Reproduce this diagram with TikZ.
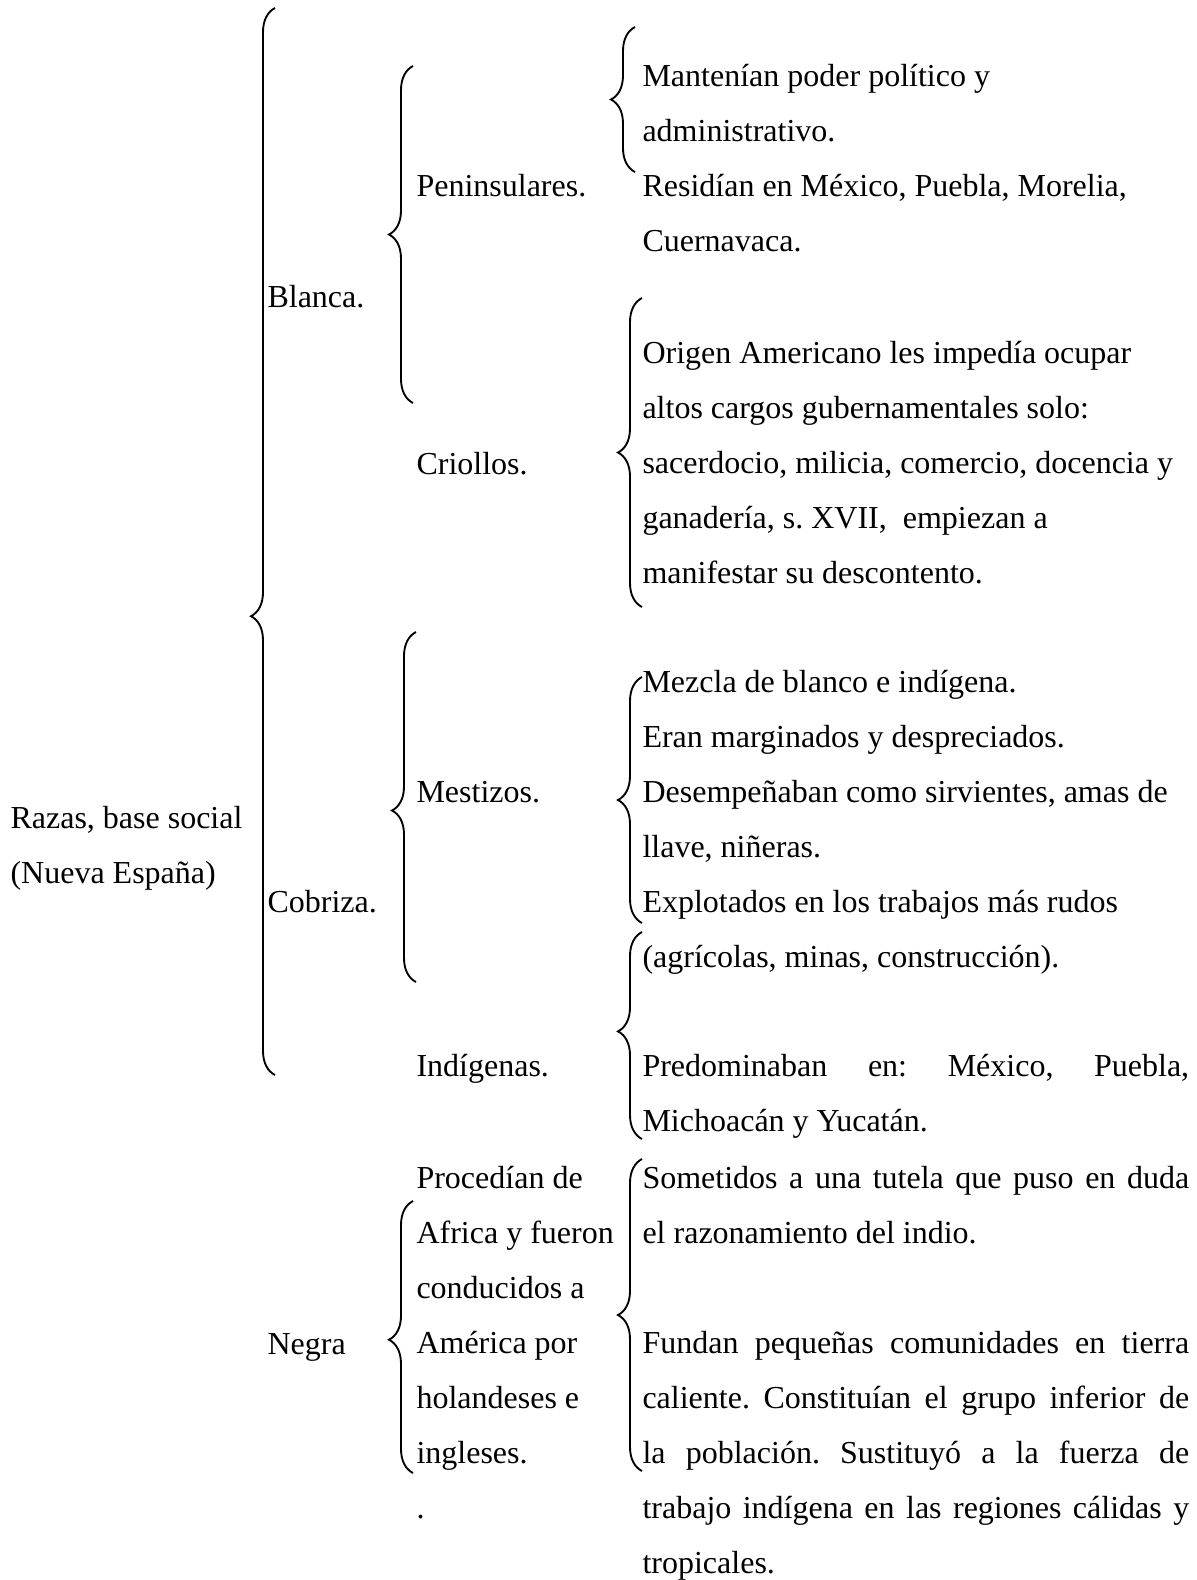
\documentclass[tikz,border=0pt]{standalone}
\usepackage{fontspec}
\setmainfont{Liberation Serif}
\frenchspacing
\usetikzlibrary{decorations.pathreplacing}
\tikzset{
	llave/.style={decorate,decoration={brace,amplitude=9pt,aspect=#1},line width=0.7pt},
	llave/.default=0.5,
	texto/.style={anchor=base west,inner sep=0pt,align=left,font=\fontsize{12pt}{20.625pt}\selectfont}
}
\begin{document}
\begin{tikzpicture}[x=0.375pt,y=-0.375pt]
	\useasboundingbox (0,0) rectangle (1197,1580);
	\draw[llave=0.43] (275,1075)--(275,8);
	\draw[llave] (413,403)--(413,66);
		\draw[llave=0.49] (416,982)--(416,632);
		\draw[llave=0.49] (413,1473)--(413,1201);
	\draw[llave] (635,172)--(635,27);
	\draw[llave] (642,607)--(642,298);
	\draw[llave] (642,923)--(642,677);
	\draw[llave=0.52] (642,1139)--(642,932);
	\draw[llave] (642,1471)--(642,1159);
	\node[texto] (raiz) at (10,883) {Razas, base social\\(Nueva España)};
	\node[texto] (blanca) at (267,307) {Blanca.};
	\node[texto] (cobriza) at (267,912) {Cobriza.};
	\node[texto] (negra) at (267,1354) {Negra};
	\node[texto] (penins) at (416,196) {Peninsulares.};
	\node[texto] (criollos) at (416,474) {Criollos.};
	\node[texto] (mestizos) at (416,802) {Mestizos.};
	\node[texto] (indigenas) at (416,1076) {Indígenas.};
	\node[texto] (procedian) at (416,1518) {Procedían de\\Africa y fueron\\conducidos a\\América por\\holandeses e\\ingleses.\\.};
	\node[texto] (dpenins) at (642,251) {Mantenían poder político y\\administrativo.\\Residían en México, Puebla, Morelia,\\Cuernavaca.};
	\node[texto] (dcriollos) at (642,583) {Origen Americano les impedía ocupar\\altos cargos gubernamentales solo:\\sacerdocio, milicia, comercio, docencia y\\ganadería, s. XVII,\ \ empiezan a\\manifestar su descontento.};
	\node[texto] (dmestizos) at (642,967) {Mezcla de blanco e indígena.\\Eran marginados y despreciados.\\Desempeñaban como sirvientes, amas de\\llave, niñeras.\\Explotados en los trabajos más rudos\\(agrícolas, minas, construcción).};
	\node[texto] (dindigenas) at (642,1131) {\makebox[205pt][s]{Predominaban en: México, Puebla,}\\Michoacán y Yucatán.};
	\node[texto] (dnegra) at (642,1573) {\makebox[205pt][s]{Sometidos a una tutela que puso en duda}\\el razonamiento del indio.\\[20.625pt]\makebox[205pt][s]{Fundan pequeñas comunidades en tierra}\\\makebox[205pt][s]{caliente. Constituían el grupo inferior de}\\\makebox[205pt][s]{la población. Sustituyó a la fuerza de}\\\makebox[205pt][s]{trabajo indígena en las regiones cálidas y}\\tropicales.};
\end{tikzpicture}
\end{document}
